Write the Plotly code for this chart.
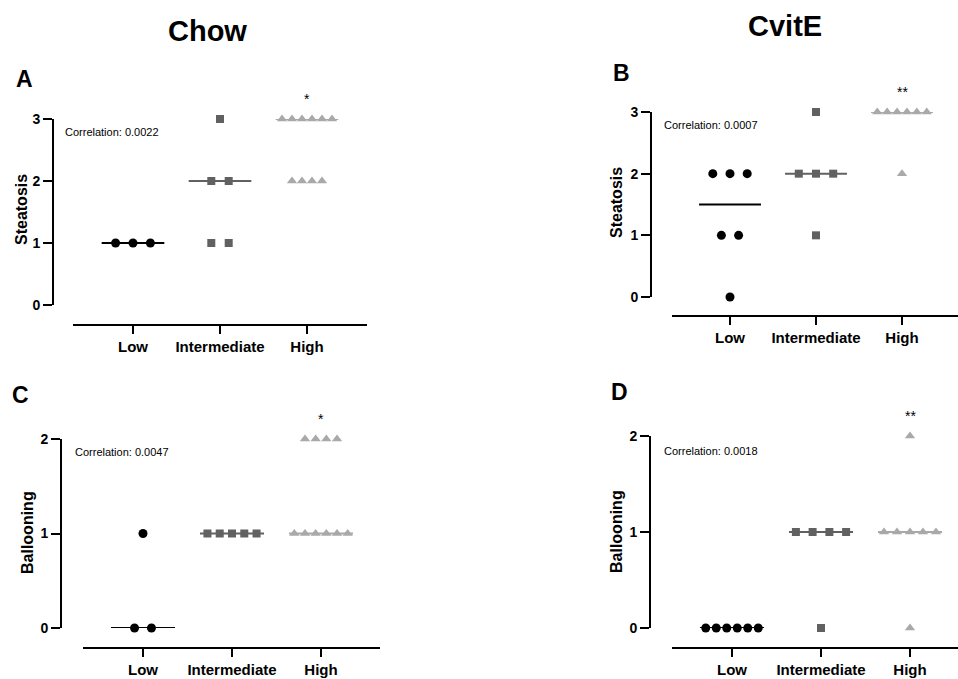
import numpy as np
import plotly.graph_objects as go

W, H = 958, 679

categories = ["Low", "Intermediate", "High"]
group_titles = ["Chow", "CvitE"]
panel_letters = ["A", "B", "C", "D"]
y_titles = ["Steatosis", "Steatosis", "Ballooning", "Ballooning"]
correlations = ["Correlation: 0.0022", "Correlation: 0.0007", "Correlation: 0.0047", "Correlation: 0.0018"]
significance = ["*", "**", "*", "**"]
y_ticks = [[0, 1, 2, 3], [0, 1, 2, 3], [0, 1, 2], [0, 1, 2]]

# scores per panel, per category (Low, Intermediate, High)
A_low = [1, 1, 1]
A_int = [3, 2, 2, 1, 1]
A_high = [3, 3, 3, 3, 3, 3, 2, 2, 2, 2]
B_low = [2, 2, 2, 1, 1, 0]
B_int = [3, 2, 2, 2, 1]
B_high = [3, 3, 3, 3, 3, 3, 2]
C_low = [1, 0, 0]
C_int = [1, 1, 1, 1, 1]
C_high = [2, 2, 2, 2, 1, 1, 1, 1, 1, 1]
D_low = [0, 0, 0, 0, 0, 0]
D_int = [1, 1, 1, 1, 0]
D_high = [2, 1, 1, 1, 1, 1, 0]

panels_data = [[A_low, A_int, A_high], [B_low, B_int, B_high],
               [C_low, C_int, C_high], [D_low, D_int, D_high]]

# ---- layout / style (pixel geometry) ----
geo = [
    dict(yx=53, ytop=119, ybot=305, xy=325, xl=73, xr=367, c0=133, sp=87),
    dict(yx=651, ytop=112, ybot=297, xy=316, xl=672, xr=958, c0=730, sp=86),
    dict(yx=61, ytop=439, ybot=628, xy=648, xl=83, xr=380, c0=143, sp=89),
    dict(yx=650, ytop=436, ybot=628, xy=648, xl=672, xr=958, c0=732, sp=89),
]
spread = [[0.2, 0.2, 0.115], [0.2, 0.2, 0.115], [0.19, 0.138, 0.12], [0.118, 0.188, 0.146]]
letter_pos = [(24, 79), (621, 73), (20, 395), (619, 392)]
ytitle_pos = [(21, 210), (616, 203), (27, 533), (616, 532)]
corr_pos = [(63, 132), (662, 125), (73, 452), (662, 451)]
title_pos = [(207, 31), (785, 26)]

colors = ["#000000", "#616161", "#a9a9a9"]
symbols = ["circle", "square", "triangle-up"]
sizes = [9, 8, 9]
FONT = "Liberation Sans, Arial, sans-serif"


def px(x):
    return x / W


def py(y):
    return 1 - y / H


fig = go.Figure()
annotations = []
layout = {}

for p in range(4):
    g = geo[p]
    sfx = "" if p == 0 else str(p + 1)
    xa, ya = "x" + sfx, "y" + sfx
    ymax = max(y_ticks[p])
    for ci, vals in enumerate(panels_data[p]):
        med = float(np.median(vals))
        fig.add_trace(go.Scatter(
            x=[ci - 0.36, ci + 0.36], y=[med, med], mode="lines",
            line=dict(color=colors[ci], width=2), xaxis=xa, yaxis=ya,
            showlegend=False, hoverinfo="skip", cliponaxis=False))
        xs, ys = [], []
        for lv in sorted(set(vals), reverse=True):
            n = vals.count(lv)
            for k in range(n):
                xs.append(ci + (k - (n - 1) / 2) * spread[p][ci])
                ys.append(lv)
        fig.add_trace(go.Scatter(
            x=xs, y=ys, mode="markers",
            marker=dict(symbol=symbols[ci], color=colors[ci], size=sizes[ci], line=dict(width=0)),
            xaxis=xa, yaxis=ya, showlegend=False, cliponaxis=False))
    annotations.append(dict(x=2, y=ymax, xref=xa, yref=ya, text=significance[p], showarrow=False,
                            xanchor="center", yanchor="middle",
                            yshift=20, font=dict(family=FONT, size=14, color="#000")))
    layout["xaxis" + sfx] = dict(
        domain=[px(g["xl"]), px(g["xr"])],
        range=[(g["xl"] - g["c0"]) / g["sp"], (g["xr"] - g["c0"]) / g["sp"]],
        anchor="free", position=py(g["xy"]), automargin=False,
        tickvals=[0, 1, 2], ticktext=categories,
        showline=True, linecolor="#000", linewidth=2,
        ticks="outside", ticklen=8, tickwidth=2, tickcolor="#000",
        showgrid=False, zeroline=False,
        tickfont=dict(family=FONT, size=15, color="#000", weight="bold"))
    layout["yaxis" + sfx] = dict(
        domain=[py(g["ybot"]), py(g["ytop"])],
        range=[0, ymax], anchor="free", position=px(g["yx"]), automargin=False,
        tickvals=y_ticks[p],
        showline=True, linecolor="#000", linewidth=2,
        ticks="outside", ticklen=9, tickwidth=2, tickcolor="#000",
        showgrid=False, zeroline=False,
        tickfont=dict(family=FONT, size=14, color="#000", weight="bold"))
    lx, ly = letter_pos[p]
    annotations.append(dict(x=px(lx), y=py(ly), xref="paper", yref="paper", text=panel_letters[p],
                            xanchor="center", yanchor="middle",
                            showarrow=False, font=dict(family=FONT, size=23, color="#000", weight="bold")))
    tx, ty = ytitle_pos[p]
    annotations.append(dict(x=px(tx), y=py(ty), xref="paper", yref="paper", text=y_titles[p],
                            xanchor="center", yanchor="middle",
                            textangle=-90, showarrow=False,
                            font=dict(family=FONT, size=16, color="#000", weight="bold")))
    cx, cy = corr_pos[p]
    annotations.append(dict(x=px(cx), y=py(cy), xref="paper", yref="paper", text=correlations[p],
                            xanchor="left", yanchor="middle", showarrow=False,
                            font=dict(family=FONT, size=11, color="#000")))

for i, t in enumerate(group_titles):
    tx, ty = title_pos[i]
    annotations.append(dict(x=px(tx), y=py(ty), xref="paper", yref="paper", text=t, showarrow=False,
                            xanchor="center", yanchor="middle",
                            font=dict(family=FONT, size=29, color="#000", weight="bold")))

fig.update_layout(width=W, height=H, margin=dict(l=0, r=0, t=0, b=0, autoexpand=False),
                  paper_bgcolor="white", plot_bgcolor="white",
                  annotations=annotations, **layout)
fig.write_html("out.html", config={"displayModeBar": False},
               post_script="document.body.style.margin='0';")
